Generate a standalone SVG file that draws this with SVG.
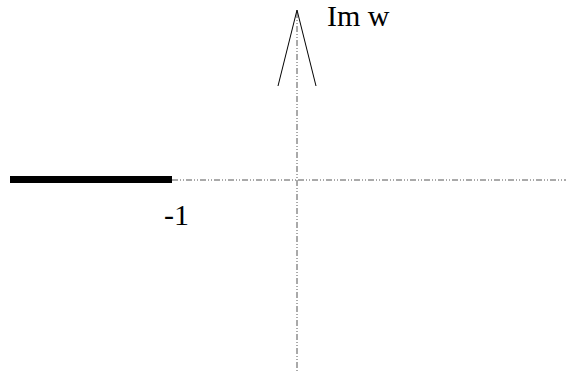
<svg xmlns="http://www.w3.org/2000/svg" width="568" height="373" viewBox="0 0 568 373">
<style>
.axis{stroke:#555;stroke-width:1;stroke-dasharray:6 2 1 2 1 2;fill:none}
.arr{stroke:#000;stroke-width:1;fill:none}
.lbl{font-family:"Liberation Serif","DejaVu Serif","Times New Roman",Times,serif;font-size:30px;fill:#000}
</style>
<rect width="568" height="373" fill="#fff"/>
<g id="connectors">
<line class="axis" x1="172" y1="180" x2="566" y2="180"/>
<line class="axis" x1="297" y1="12" x2="297" y2="371"/>
<polyline class="arr" points="278,86 297,10 316,86"/>
</g>
<g id="cut">
<line x1="10" y1="179.5" x2="172" y2="179.5" stroke="#000" stroke-width="7"/>
</g>
<g id="labels">
<text class="lbl" x="327" y="26">Im w</text>
<text class="lbl" x="164" y="225">-1</text>
</g>
</svg>
